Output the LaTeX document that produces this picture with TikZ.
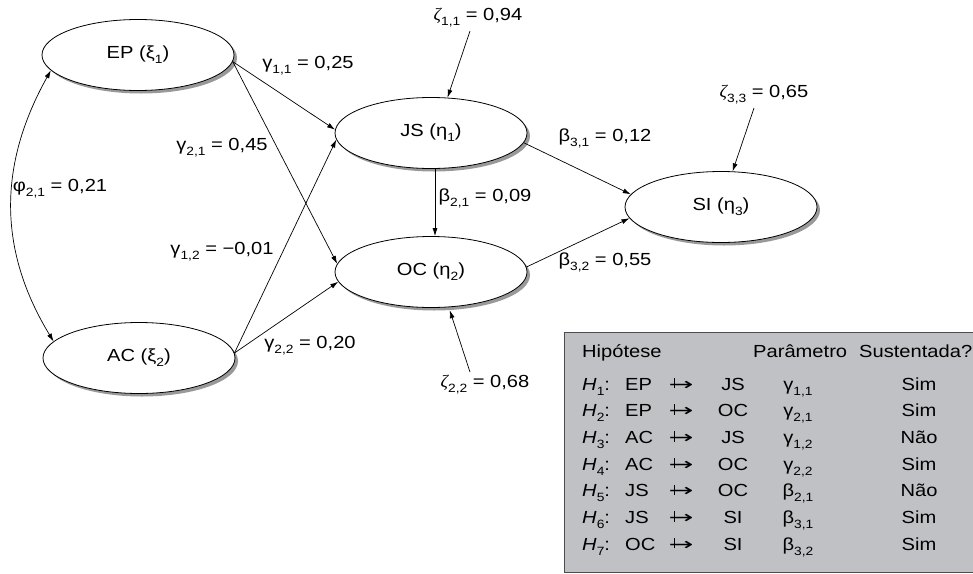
\documentclass[tikz,border=0pt]{standalone}
\usepackage{graphicx}
\usepackage{fontspec}
\setmainfont{Liberation Sans}[FakeStretch=1.15]
\newfontfamily\zetafont{Liberation Serif}[FakeStretch=1.05]
\newfontfamily\arrowfont{DejaVu Sans}
\usetikzlibrary{arrows.meta,shapes.geometric,shadows}
\definecolor{tabgray}{RGB}{192,193,196}
\newcommand{\idx}[1]{\raisebox{-0.55ex}{\fontsize{12}{13}\selectfont #1}}
\newcommand{\zt}{{\zetafont\itshape ζ}}
\newcommand{\notto}{\makebox[0pt][l]{\hspace{0.3em}\rule[0.1em]{0.055em}{0.6em}}{\arrowfont\scalebox{1.7}[1]{→}}}

\begin{document}
\begin{tikzpicture}[x=1pt,y=-1pt,font=\fontsize{17.5}{19}\selectfont]
\tikzset{latent/.style={ellipse,draw,fill=white,line width=0.8pt,
           minimum width=192pt,minimum height=71pt,inner sep=0pt,
           drop shadow={shadow xshift=3pt,shadow yshift=-3pt,fill=black!40,opacity=1}},
         arr/.style={-{Latex[length=8pt,width=5pt]},line width=0.7pt},
         cell/.style={inner sep=0pt,anchor=base}}
\useasboundingbox (0,0) rectangle (973,573);

% latent variables
\node[latent] (ep) at (138,55) {EP (ξ\idx{1})};
\node[latent] (ac) at (139,358) {AC (ξ\idx{2})};
\node[latent] (js) at (431,133) {JS (η\idx{1})};
\node[latent] (oc) at (431,272) {OC (η\idx{2})};
\node[latent] (si) at (721,207) {SI (η\idx{3})};

% path coefficients
\node (g11) at (308,66) {γ\idx{1,1} = 0,25};
\node (g21) at (222,148) {γ\idx{2,1} = 0,45};
\node (g12) at (222,252) {γ\idx{1,2} = −0,01};
\node (g22) at (310,346) {γ\idx{2,2} = 0,20};
\node (phi) at (60,189) {φ\idx{2,1} = 0,21};
\node (b21) at (485,198) {β\idx{2,1} = 0,09};
\node (b31) at (605,138) {β\idx{3,1} = 0,12};
\node (b32) at (605,262) {β\idx{3,2} = 0,55};
\node (z11) at (478,18) {\zt\idx{1,1} = 0,94};
\node (z22) at (485,385) {\zt\idx{2,2} = 0,68};
\node (z33) at (764,95) {\zt\idx{3,3} = 0,65};

\draw[arr] (ep.-4) -- (js.178);
\draw[arr] (ep.-4) -- (oc.175);
\draw[arr] (ac.3) -- (js.184);
\draw[arr] (ac.3) -- (oc.186);
\draw[arr] ([xshift=4pt]js.south) -- ([xshift=4pt]oc.north);
\draw[arr] (js.-6) -- (si.172);
\draw[arr] (oc.3) -- (si.187);
\draw[arr] ([xshift=-8pt]z11.south) -- (js.65);
\draw[arr] ([xshift=-10pt]z33.south) -- (si.72);
\draw[arr] ([xshift=-15pt]z22.north) -- ([yshift=-3pt]oc.-62);
\draw[{Latex[length=8pt,width=5pt]}-{Latex[length=8pt,width=5pt]},line width=0.7pt]
    (ep.190) .. controls (-2,165) and (-2,250) .. (ac.169);

% hypotheses table
\draw[draw=black!70,fill=tabgray,line width=1pt] (564,332) rectangle (990,572);
\node[cell,anchor=base west] (hhyp) at (582,357) {Hipótese};
\node[cell,anchor=base west] (hpar) at (753,357) {Parâmetro};
\node[cell,anchor=base west] (hsus) at (859,357) {Sustentada?};
\foreach \i/\a/\b/\p/\s [count=\r from 0] in
    {1/EP/JS/γ\idx{1,1}/Sim, 2/EP/OC/γ\idx{2,1}/Sim, 3/AC/JS/γ\idx{1,2}/Não,
     4/AC/OC/γ\idx{2,2}/Sim, 5/JS/OC/β\idx{2,1}/Não, 6/JS/SI/β\idx{3,1}/Sim,
     7/OC/SI/β\idx{3,2}/Sim}
{
    \node[cell,anchor=base west] (h\i) at (582,{390+26.7*\r}) {\textit{H}\idx{\i}:};
    \node[cell,anchor=base west] (a\i) at (625,{390+26.7*\r}) {\a};
    \node[cell] (r\i) at (681,{390+26.7*\r}) {\notto};
    \node[cell] (b\i) at (733,{390+26.7*\r}) {\b};
    \node[cell] (p\i) at (798,{390+26.7*\r}) {\p};
    \node[cell] (s\i) at (919,{390+26.7*\r}) {\s};
}
\end{tikzpicture}
\end{document}
